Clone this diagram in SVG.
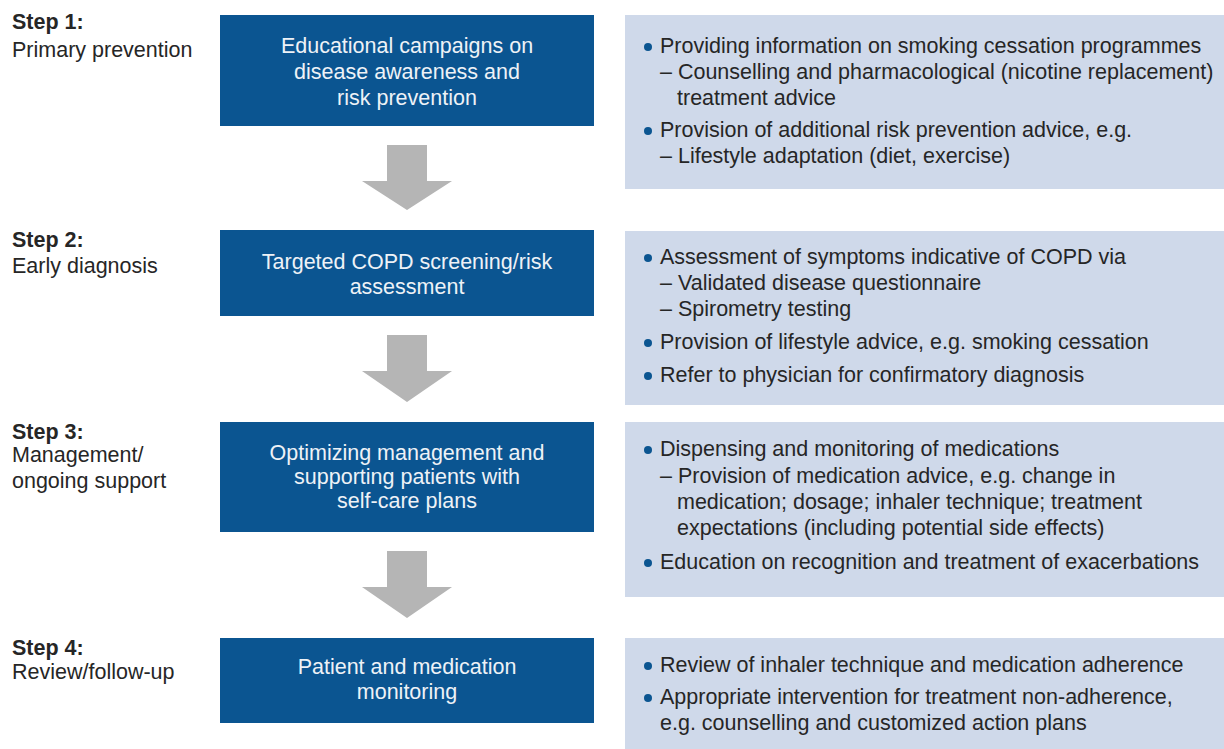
<svg xmlns="http://www.w3.org/2000/svg" width="1224" height="749" viewBox="0 0 1224 749">
<style>
text{font-family:"Liberation Sans",Arial,Helvetica,sans-serif;font-size:21.5px;fill:#262626}
.step{font-weight:bold}
.box{fill:#0b5591}
.bt{fill:#eef2f7;text-anchor:middle}
.panel{fill:#cfd9ea}
.dot{fill:#0b5591}
.arrow{fill:#b5b5b5}
</style>
<rect width="1224" height="749" fill="#ffffff"/>

<g id="connectors">
<polygon class="arrow" points="387,145 427,145 427,181 452,181 407,210 362,181 387,181"/>
<polygon class="arrow" points="387,335 427,335 427,371 452,371 407,402 362,371 387,371"/>
<polygon class="arrow" points="387,551 427,551 427,587 452,587 407,618 362,587 387,587"/>
</g>

<g id="step1">
<text class="step" x="12" y="29">Step 1:</text>
<text x="12" y="57">Primary prevention</text>
</g>
<g id="box1">
<rect class="box" x="220" y="15" width="374" height="111"/>
<text class="bt" x="407" y="53">Educational campaigns on</text>
<text class="bt" x="407" y="79">disease awareness and</text>
<text class="bt" x="407" y="105">risk prevention</text>
</g>
<g id="panel1">
<rect class="panel" x="625" y="15" width="599" height="174"/>
<circle class="dot" cx="648" cy="47" r="4"/>
<text x="660" y="53">Providing information on smoking cessation programmes</text>
<text x="660" y="79">– Counselling and pharmacological (nicotine replacement)</text>
<text x="677" y="105">treatment advice</text>
<circle class="dot" cx="648" cy="131" r="4"/>
<text x="660" y="137">Provision of additional risk prevention advice, e.g.</text>
<text x="660" y="163">– Lifestyle adaptation (diet, exercise)</text>
</g>

<g id="step2">
<text class="step" x="12" y="247">Step 2:</text>
<text x="12" y="273">Early diagnosis</text>
</g>
<g id="box2">
<rect class="box" x="220" y="230" width="374" height="86"/>
<text class="bt" x="407" y="269">Targeted COPD screening/risk</text>
<text class="bt" x="407" y="294">assessment</text>
</g>
<g id="panel2">
<rect class="panel" x="625" y="231" width="599" height="174"/>
<circle class="dot" cx="648" cy="258" r="4"/>
<text x="660" y="264">Assessment of symptoms indicative of COPD via</text>
<text x="660" y="290">– Validated disease questionnaire</text>
<text x="660" y="316">– Spirometry testing</text>
<circle class="dot" cx="648" cy="343" r="4"/>
<text x="660" y="349">Provision of lifestyle advice, e.g. smoking cessation</text>
<circle class="dot" cx="648" cy="376" r="4"/>
<text x="660" y="382">Refer to physician for confirmatory diagnosis</text>
</g>

<g id="step3">
<text class="step" x="12" y="439">Step 3:</text>
<text x="12" y="462">Management/</text>
<text x="12" y="488">ongoing support</text>
</g>
<g id="box3">
<rect class="box" x="220" y="422" width="374" height="110"/>
<text class="bt" x="407" y="460">Optimizing management and</text>
<text class="bt" x="407" y="484">supporting patients with</text>
<text class="bt" x="407" y="508">self-care plans</text>
</g>
<g id="panel3">
<rect class="panel" x="625" y="422" width="599" height="175"/>
<circle class="dot" cx="648" cy="450" r="4"/>
<text x="660" y="456">Dispensing and monitoring of medications</text>
<text x="660" y="483">– Provision of medication advice, e.g. change in</text>
<text x="677" y="509">medication; dosage; inhaler technique; treatment</text>
<text x="677" y="535">expectations (including potential side effects)</text>
<circle class="dot" cx="648" cy="563" r="4"/>
<text x="660" y="569">Education on recognition and treatment of exacerbations</text>
</g>

<g id="step4">
<text class="step" x="12" y="655">Step 4:</text>
<text x="12" y="679">Review/follow-up</text>
</g>
<g id="box4">
<rect class="box" x="220" y="638" width="374" height="85"/>
<text class="bt" x="407" y="674">Patient and medication</text>
<text class="bt" x="407" y="699">monitoring</text>
</g>
<g id="panel4">
<rect class="panel" x="625" y="638" width="599" height="111"/>
<circle class="dot" cx="648" cy="666" r="4"/>
<text x="660" y="672">Review of inhaler technique and medication adherence</text>
<circle class="dot" cx="648" cy="698" r="4"/>
<text x="660" y="704">Appropriate intervention for treatment non-adherence,</text>
<text x="660" y="730">e.g. counselling and customized action plans</text>
</g>
</svg>
